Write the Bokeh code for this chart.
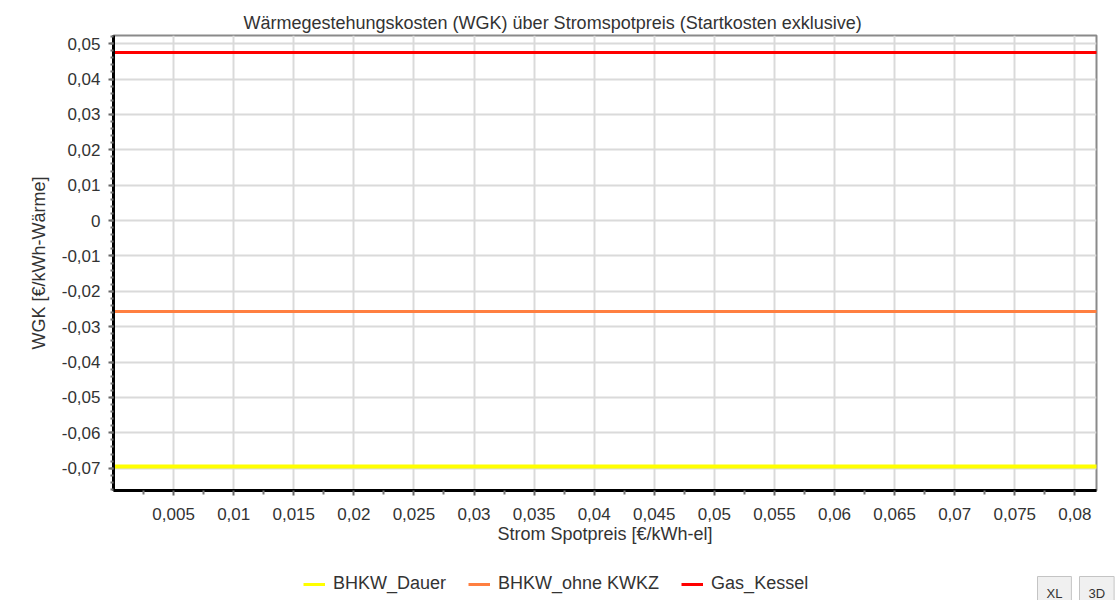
from bokeh.plotting import figure
from bokeh.layouts import column
from bokeh.models import (FixedTicker, CustomJSTickFormatter, Legend, LegendItem, Range1d, Label)
from bokeh.embed import file_html
from bokeh.resources import INLINE

# ---- data ----
spot_price = [0.0, 0.09]
bhkw_dauer = [-0.0695, -0.0695]
bhkw_ohne_kwkz = [-0.0257, -0.0257]
gas_kessel = [0.0475, 0.0475]
series_names = ["BHKW_Dauer", "BHKW_ohne KWKZ", "Gas_Kessel"]
series_colors = ["#ffff00", "#ff7f40", "#ff0000"]
x_ticks = [0.005, 0.01, 0.015, 0.02, 0.025, 0.03, 0.035, 0.04, 0.045, 0.05,
           0.055, 0.06, 0.065, 0.07, 0.075, 0.08]
y_ticks = [-0.07, -0.06, -0.05, -0.04, -0.03, -0.02, -0.01, 0.0, 0.01, 0.02, 0.03, 0.04, 0.05]

FONT = "Liberation Sans"
W, H_MAIN, H_LEG = 1115, 560, 40

p = figure(width=W, height=H_MAIN, output_backend="svg", toolbar_location=None,
           x_range=Range1d(0, 0.0818), y_range=Range1d(-0.0763, 0.0523),
           min_border_left=113, min_border_right=19, min_border_top=35, min_border_bottom=70)
p.frame_align = False

p.title.text = "Wärmegestehungskosten (WGK) über Stromspotpreis (Startkosten exklusive)"
p.title.align = "left"
p.title.offset = 130
p.title.text_font = FONT
p.title.text_font_size = "18px"
p.title.text_font_style = "normal"
p.title.text_color = "#333333"
p.title.standoff = 6

p.outline_line_color = "#8a8a8a"
p.outline_line_width = 2
p.background_fill_color = "white"
p.border_fill_color = "white"

fmt = CustomJSTickFormatter(code="return Number(tick.toFixed(4)).toString().replace('.', ',');")

x_minor = [round(0.0025 + 0.005 * i, 4) for i in range(17)]
y_minor = [round(-0.076 + 0.002 * i, 4) for i in range(65)]

p.xaxis.ticker = FixedTicker(ticks=x_ticks, minor_ticks=x_minor)
p.yaxis.ticker = FixedTicker(ticks=y_ticks, minor_ticks=y_minor)
for ax in (p.xaxis[0], p.yaxis[0]):
    ax.formatter = fmt
    ax.axis_line_color = "black"
    ax.axis_line_width = 3
    ax.major_tick_line_color = "#666666"
    ax.major_tick_line_width = 2
    ax.minor_tick_line_color = "#777777"
    ax.minor_tick_line_width = 2
    ax.major_tick_in = 0
    ax.minor_tick_in = 0
    ax.major_label_text_font = FONT
    ax.major_label_text_font_size = "17px"
    ax.major_label_text_color = "#333333"
    ax.axis_label_text_font = FONT
    ax.axis_label_text_font_size = "18px"
    ax.axis_label_text_font_style = "normal"
    ax.axis_label_text_color = "#333333"

p.xaxis.major_tick_out = 5
p.xaxis.minor_tick_out = 4
p.xaxis.major_label_standoff = 12
p.xaxis.axis_label = "Strom Spotpreis [€/kWh-el]"
p.xaxis.axis_label_standoff = 1

p.yaxis.major_tick_out = 5
p.yaxis.minor_tick_out = 3
p.yaxis.major_label_standoff = 8
p.yaxis.axis_label = "WGK [€/kWh-Wärme]"
p.yaxis.axis_label_standoff = 10

p.xgrid.grid_line_color = "#dadada"
p.xgrid.grid_line_width = 2
p.ygrid.grid_line_color = "#dadada"
p.ygrid.grid_line_width = 2

series_values = [bhkw_dauer, bhkw_ohne_kwkz, gas_kessel]
widths = [4, 3, 3]
for vals, col, lw in zip(series_values, series_colors, widths):
    p.line(spot_price, vals, line_color=col, line_width=lw)

# ---- legend strip below the chart (its lines lie outside its visible range) ----
q = figure(width=W, height=H_LEG, output_backend="svg", toolbar_location=None,
           min_border_left=0, min_border_right=0, min_border_top=0, min_border_bottom=0,
           x_axis_type=None, y_axis_type=None, x_range=Range1d(0, 1), y_range=Range1d(1, 2))
q.frame_align = False
q.outline_line_color = None
q.xgrid.visible = False
q.ygrid.visible = False

items = []
for name, vals, col in zip(series_names, series_values, series_colors):
    r = q.line(spot_price, vals, line_color=col, line_width=3)
    items.append(LegendItem(label=name, renderers=[r]))

legend = Legend(items=items, orientation="horizontal", location=(303, 6),
                border_line_color=None, background_fill_alpha=0,
                label_text_font=FONT, label_text_font_size="18px", label_text_color="#333333",
                glyph_width=22, glyph_height=18, label_height=18, padding=0, margin=0,
                spacing=22, label_standoff=8)
q.add_layout(legend, "center")

for txt, x in (("XL", 1037), ("3D", 1079)):
    q.add_layout(Label(x=x, y=-9, x_units="screen", y_units="screen", text=txt,
                       text_font=FONT, text_font_size="13px", text_color="#333333",
                       border_line_color="#c4c4c4", border_line_width=1,
                       background_fill_color="#f0f0f0", padding=9))

open("out.html", "w").write(file_html(column(p, q, spacing=0), INLINE))
